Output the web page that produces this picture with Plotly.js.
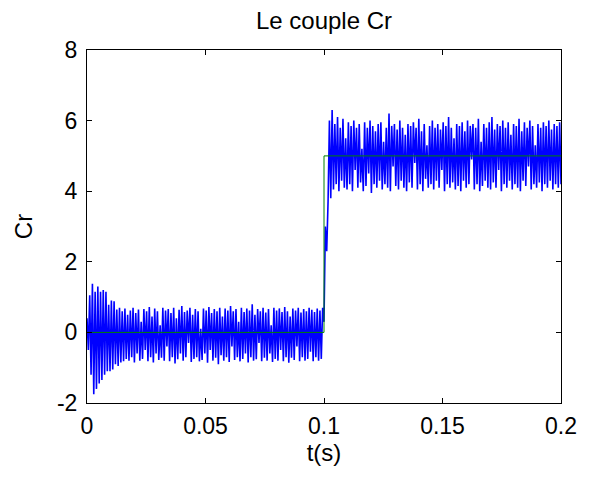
<!DOCTYPE html>
<html>
<head>
<meta charset="utf-8">
<script src="https://cdn.plot.ly/plotly-3.0.1.min.js"></script>
<style>html,body{margin:0;padding:0;background:#fff;}#chart{width:592px;height:482px;}</style>
</head>
<body>
<div id="chart"></div>
<script>
// Sampling of the measured torque (s)
var tStart = 0;
var tStep = 0.2 / 350;

// Measured torque Cr, 0 .. 0.1 s
var crBefore = [
  0.4, -0.5, 1.05, -1.2, 1.38, -1.75, 1.15, -1.6, 1.3, -1.45, 1.15, -1.35, 1.2, -1.2, 1.15, -1.1, 0.78, -1.1, 0.9, -1.05,
  0.88, -0.9, 0.65, -0.95, 0.7, -0.85, 0.6, -0.82, 0.68, -0.75, 0.5, -0.8, 0.62, -0.7, 0.7, -0.85, 0.55, -0.6, 0.65, -0.8,
  0.3, -0.75, 0.66, -0.5, 0.6, -0.82, 0.72, -0.7, 0.45, -0.85, 0.68, -0.6, 0.6, -0.78, 0.2, -0.72, 0.7, -0.8, 0.62, -0.4,
  0.66, -0.82, 0.55, -0.7, 0.7, -0.88, 0.4, -0.76, 0.64, -0.6, 0.75, -0.8, 0.58, -0.7, 0.62, -0.3, 0.7, -0.84, 0.5, -0.75,
  0.66, -0.7, 0.6, -0.82, 0.1, -0.78, 0.68, -0.6, 0.62, -0.86, 0.72, -0.5, 0.55, -0.8, 0.66, -0.72, 0.6, -0.9, 0.7, -0.65,
  0.45, -0.8, 0.68, -0.7, 0.62, -0.84, 0.75, -0.4, 0.6, -0.78, 0.66, -0.7, 0.3, -0.82, 0.7, -0.75, 0.58, -0.6, 0.68, -0.85,
  0.62, -0.7, 0.8, -0.8, 0.5, -0.76, 0.66, -0.3, 0.6, -0.82, 0.7, -0.72, 0.56, -0.8, 0.66, -0.6, 0.2, -0.84, 0.7, -0.75,
  0.62, -0.8, 0.68, -0.5, 0.58, -0.82, 0.72, -0.7, 0.6, -0.86, 0.45, -0.72, 0.68, -0.78, 0.62, -0.4, 0.7, -0.82, 0.56, -0.7,
  0.66, -0.8, 0.6, -0.75, 0.7, -0.55, 0.64, -0.82, 0.58, -0.7, 0.68, -0.8, 0.62, -0.75, 0.7
];

// Measured torque Cr, 0.1 .. 0.2 s
var crAfter = [
  0.3, 3.0, 2.3, 3.7, 6.0, 3.8, 6.3, 4.05, 5.9, 4.2, 6.1, 4.0, 5.8, 4.3, 6.05, 4.1, 5.5, 4.05, 5.95, 4.2,
  5.85, 4.0, 6.0, 4.6, 5.8, 4.1, 5.9, 4.25, 5.2, 4.0, 5.95, 4.15, 5.8, 4.5, 6.0, 3.95, 5.85, 4.2, 5.7, 4.1,
  5.9, 4.3, 5.95, 4.05, 5.4, 4.2, 5.8, 4.1, 6.2, 4.0, 5.85, 4.7, 5.9, 4.15, 5.75, 4.05, 6.0, 4.3, 5.8, 4.1,
  5.6, 4.0, 5.9, 4.25, 5.85, 4.1, 5.95, 4.8, 5.8, 4.05, 6.05, 4.2, 5.7, 4.0, 5.9, 4.35, 5.3, 4.1, 5.85, 4.2,
  6.0, 4.05, 5.8, 4.3, 5.9, 4.1, 5.75, 4.6, 5.95, 4.0, 5.85, 4.2, 6.1, 4.1, 5.8, 4.25, 5.5, 4.05, 5.9, 4.15,
  5.85, 4.0, 5.95, 4.3, 5.7, 4.1, 6.0, 4.2, 5.85, 4.9, 5.9, 4.05, 5.8, 4.2, 6.05, 4.0, 5.4, 4.15, 5.9, 4.3,
  5.8, 4.1, 5.95, 4.05, 6.1, 4.25, 5.75, 4.1, 5.9, 4.6, 5.85, 4.0, 6.0, 4.2, 5.8, 4.1, 5.95, 4.3, 5.6, 4.05,
  5.9, 4.2, 5.85, 4.1, 6.05, 4.0, 5.7, 4.3, 5.95, 4.15, 5.8, 4.7, 6.0, 4.05, 5.85, 4.2, 5.3, 4.1, 5.9, 4.25,
  5.8, 4.0, 5.95, 4.2, 5.85, 4.1, 6.0, 4.3, 5.75, 4.05, 5.9, 4.2, 5.85, 4.1, 5.95,
  4.2
];

// Reference torque (step)
var refT = [0, 0.1, 0.1, 0.2];
var refCr = [0, 0, 5, 5];

// Tick labels
var xTicks = [0, 0.05, 0.1, 0.15, 0.2];
var xTickText = ['0', '0.05', '0.1', '0.15', '0.2'];
var yTicks = [-2, 0, 2, 4, 6, 8];
var yTickText = ['-2', '0', '2', '4', '6', '8'];

var FONT = 'Liberation Sans, Arial, Helvetica, sans-serif';

var traces = [
  {
    type: 'scatter', mode: 'lines',
    x0: tStart, dx: tStep,
    y: crBefore.concat(crAfter),
    line: {color: 'rgb(0,0,255)', width: 1.6},
    hoverinfo: 'skip'
  },
  {
    type: 'scatter', mode: 'lines',
    x: refT, y: refCr,
    line: {color: 'rgb(0,128,0)', width: 1},
    hoverinfo: 'skip'
  }
];

var axisCommon = {
  showgrid: false, zeroline: false,
  showline: true, linecolor: 'black', linewidth: 1, mirror: 'ticks',
  ticks: 'inside', ticklen: 5, tickwidth: 1, tickcolor: 'black',
  tickfont: {family: FONT, size: 23, color: 'black'},
  fixedrange: true
};

var layout = {
  width: 592, height: 482,
  margin: {l: 87, r: 31, t: 50, b: 79, pad: 0},
  paper_bgcolor: 'white', plot_bgcolor: 'white',
  showlegend: false,
  font: {family: FONT, color: 'black'},
  title: {
    text: 'Le couple Cr',
    font: {family: FONT, size: 24, color: 'black'},
    x: 0.5, xref: 'paper', xanchor: 'center',
    y: 1 - 21 / 482, yref: 'container', yanchor: 'middle'
  },
  xaxis: Object.assign({}, axisCommon, {
    range: [0, 0.2], tickvals: xTicks, ticktext: xTickText,
    ticklabelstandoff: 2,
    title: {text: 't(s)', font: {family: FONT, size: 24, color: 'black'}, standoff: 6}
  }),
  yaxis: Object.assign({}, axisCommon, {
    range: [-2, 8], tickvals: yTicks, ticktext: yTickText,
    ticklabelstandoff: 4,
    title: {text: 'Cr', font: {family: FONT, size: 24, color: 'black'}, standoff: 17}
  })
};

Plotly.newPlot('chart', traces, layout, {staticPlot: true, displayModeBar: false});
</script>
</body>
</html>
